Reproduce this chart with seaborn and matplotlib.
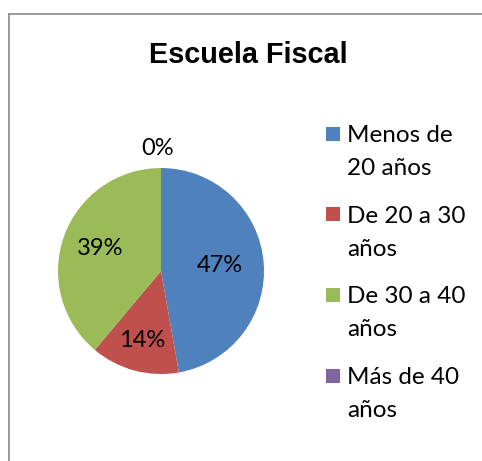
import seaborn as sns
import matplotlib.pyplot as plt
from matplotlib.patches import Rectangle

# datos del gráfico
categorias = ['Menos de\n20 años', 'De 20 a 30\naños', 'De 30 a 40\naños', 'Más de 40\naños']
valores = [17, 5, 14, 0]
colores = ['#4F81BD', '#C0504D', '#9BBB59', '#8064A2']

sns.set_theme(style='white')
plt.rcParams['font.family'] = ['Lato', 'DejaVu Sans']
plt.rcParams['text.color'] = 'black'

W, H = 482, 461
fig = plt.figure(figsize=(W / 100, H / 100), dpi=100)


def fx(x):
    return x / W


def fy(y):
    return 1 - y / H


# marco del área del gráfico
fig.add_artist(plt.Line2D([fx(9), fx(9)], [fy(14), fy(H + 5)], color='#888888', lw=1.2))
fig.add_artist(plt.Line2D([fx(9), fx(W + 5)], [fy(14), fy(14)], color='#888888', lw=1.2))

# título
fig.text(fx(248), fy(63), 'Escuela Fiscal', ha='center', va='baseline', color='black',
         fontsize=20.8, fontweight='bold', family=['Liberation Sans', 'DejaVu Sans'])

# pastel
cx, cy, r = 161, 271, 103
ax = fig.add_axes([fx(cx - r), fy(cy + r), 2 * r / W, 2 * r / H])
wedges, textos, pcts = ax.pie(valores, colors=colores, startangle=90, counterclock=False,
                              autopct='%1.0f%%', pctdistance=0.6, radius=1,
                              wedgeprops=dict(linewidth=0), textprops=dict(fontsize=17))
ax.set_xlim(-1, 1)
ax.set_ylim(-1, 1)
ax.set_aspect('auto')

# posición de las etiquetas (ajuste tipo Excel)
distancias = [0.57, 0.70, 0.63, 1.19]
for t, d in zip(pcts, distancias):
    x, y = t.get_position()
    n = (x ** 2 + y ** 2) ** 0.5
    if n == 0:
        continue
    t.set_position((x / n * d, y / n * d))
    t.set_color('black')
pcts[3].set_position((-0.03, 1.19))

# leyenda manual
for i, (cat, col) in enumerate(zip(categorias, colores)):
    y0 = 127 + i * 80.5
    fig.add_artist(Rectangle((fx(326), fy(y0 + 14)), 14 / W, 14 / H,
                             transform=fig.transFigure, color=col, lw=0))
    for j, linea in enumerate(cat.split('\n')):
        fig.text(fx(347), fy(y0 + 15 + j * 33), linea, ha='left', va='baseline',
                 fontsize=17.5, color='black')

plt.savefig('out.png', dpi=100)
